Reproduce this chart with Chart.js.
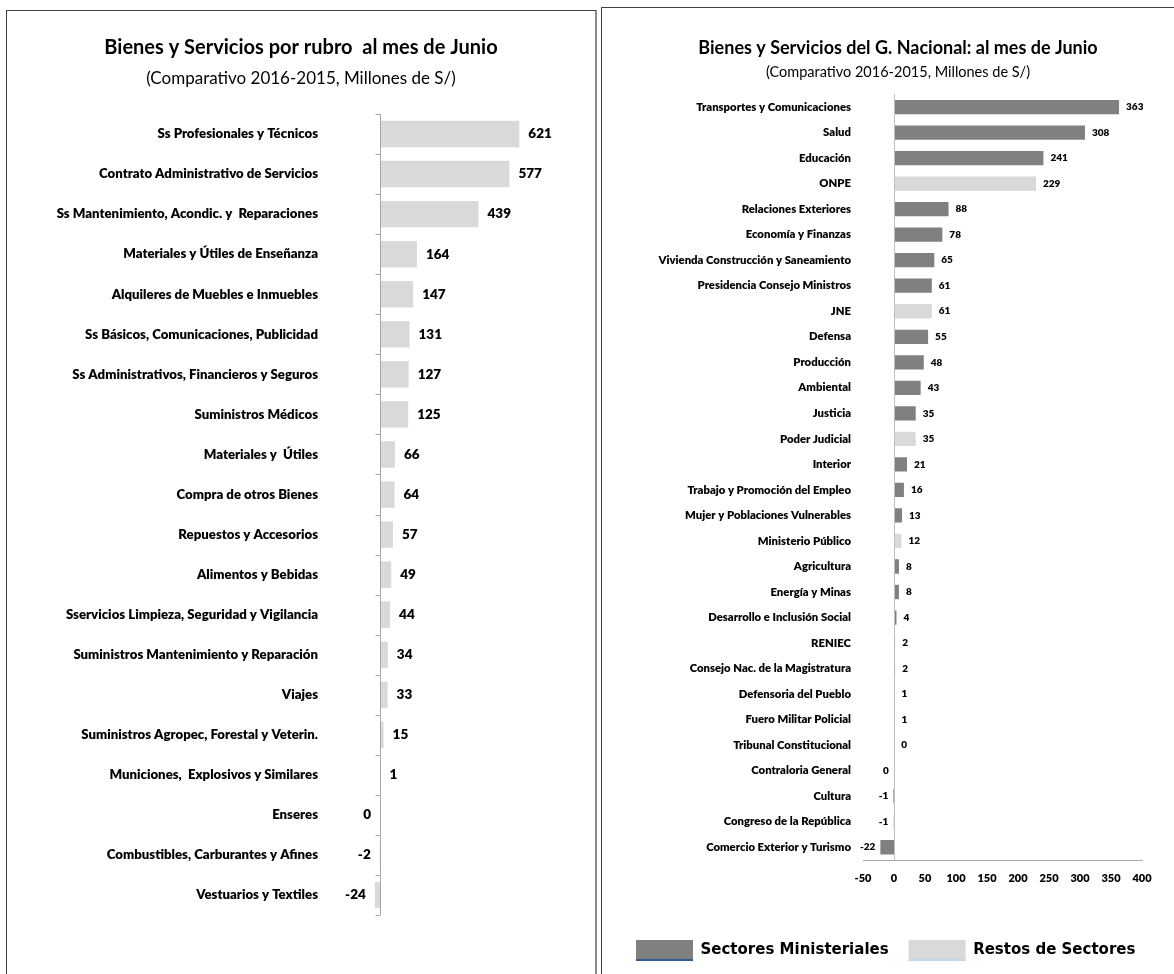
<!DOCTYPE html>
<html>
<head>
<meta charset="utf-8">
<script src="https://cdn.jsdelivr.net/npm/chart.js@4.4.1/dist/chart.umd.min.js"></script>
<style>
html, body { margin: 0; padding: 0; background: #fff; width: 1174px; height: 974px; overflow: hidden; }
.panel { position: absolute; box-sizing: border-box; }
#p1 { left: 6px; top: 10px; width: 591px; height: 1000px; border-left: 1px solid #404040; border-top: 1px solid #404040; border-right: 2px solid #8c8c8c; }
#p2 { left: 601px; top: 7px; width: 640px; height: 1000px; border-left: 1px solid #404040; border-top: 1px solid #404040; }
canvas { position: absolute; left: 0; top: 0; }
</style>
</head>
<body>
<div class="panel" id="p1"><canvas id="rubroChart" width="588" height="963"></canvas></div>
<div class="panel" id="p2"><canvas id="nacionalChart" width="620" height="966"></canvas></div>
<script>
// Bienes y Servicios por rubro (millones de S/)
const rubroLabels = [
    'Ss Profesionales y Técnicos',
    'Contrato Administrativo de Servicios',
    'Ss Mantenimiento, Acondic. y  Reparaciones',
    'Materiales y Útiles de Enseñanza',
    'Alquileres de Muebles e Inmuebles',
    'Ss Básicos, Comunicaciones, Publicidad',
    'Ss Administrativos, Financieros y Seguros',
    'Suministros Médicos',
    'Materiales y  Útiles',
    'Compra de otros Bienes',
    'Repuestos y Accesorios',
    'Alimentos y Bebidas',
    'Sservicios Limpieza, Seguridad y Vigilancia',
    'Suministros Mantenimiento y Reparación',
    'Viajes',
    'Suministros Agropec, Forestal y Veterin.',
    'Municiones,  Explosivos y Similares',
    'Enseres',
    'Combustibles, Carburantes y Afines',
    'Vestuarios y Textiles',
];
const rubroValues = [621, 577, 439, 164, 147, 131, 127, 125, 66, 64, 57, 49, 44, 34, 33, 15, 1, -0.2, -2, -24];

// Bienes y Servicios del G. Nacional por sector
const sectorLabels = [
    'Transportes y Comunicaciones', 'Salud', 'Educación', 'ONPE', 'Relaciones Exteriores',
    'Economía y Finanzas', 'Vivienda Construcción y Saneamiento', 'Presidencia Consejo Ministros', 'JNE', 'Defensa',
    'Producción', 'Ambiental', 'Justicia', 'Poder Judicial', 'Interior',
    'Trabajo y Promoción del Empleo', 'Mujer y Poblaciones Vulnerables', 'Ministerio Público', 'Agricultura', 'Energía y Minas',
    'Desarrollo e Inclusión Social', 'RENIEC', 'Consejo Nac. de la Magistratura', 'Defensoria del Pueblo', 'Fuero Militar Policial',
    'Tribunal Constitucional', 'Contraloria General', 'Cultura', 'Congreso de la República', 'Comercio Exterior y Turismo',
];
const sectorValues = [363, 308, 241, 229, 88, 78, 65, 61, 61, 55, 48, 43, 35, 35, 21, 16, 13, 12, 8, 8, 4, 2, 2, 1, 1, 0.3, -0.3, -1, -1, -22];
// M = Sectores Ministeriales, R = Restos de Sectores
const sectorGroup = ['M', 'M', 'M', 'R', 'M', 'M', 'M', 'M', 'R', 'M', 'M', 'M', 'M', 'R', 'M',
    'M', 'M', 'R', 'M', 'M', 'M', 'R', 'R', 'R', 'R', 'R', 'R', 'M', 'R', 'M'];
const groupNames = { M: 'Sectores Ministeriales', R: 'Restos de Sectores' };
const xTicksNacional = [-50, 0, 50, 100, 150, 200, 250, 300, 350, 400];

const FONT = "Lato, 'DejaVu Sans Condensed', sans-serif";
const DARK = '#808080';
const LIGHT = '#d9d9d9';

Chart.defaults.font.family = FONT;
Chart.defaults.color = '#000';

// value labels at the end of every bar
const valueLabels = {
    id: 'valueLabels',
    afterDatasetsDraw(chart, args, opts) {
        const ctx = chart.ctx;
        ctx.save();
        ctx.font = opts.font;
        ctx.fillStyle = '#000';
        ctx.textBaseline = 'middle';
        chart.data.datasets.forEach((ds, di) => {
            chart.getDatasetMeta(di).data.forEach((bar, i) => {
                const v = ds.data[i];
                if (v === null || v === undefined) return;
                const txt = Math.round(v).toString();
                if (v > 0) {
                    ctx.textAlign = 'left';
                    ctx.fillText(txt, bar.x + opts.gap, bar.y);
                } else {
                    ctx.textAlign = 'right';
                    ctx.fillText(txt, bar.x - opts.gapNeg, bar.y);
                }
            });
        });
        ctx.restore();
    }
};

// vertical axis line drawn at x = 0, optional tick marks between categories
const zeroAxis = {
    id: 'zeroAxis',
    afterDatasetsDraw(chart, args, opts) {
        const { ctx, chartArea } = chart;
        const x = Math.round(chart.scales.x.getPixelForValue(0)) + 0.5;
        ctx.save();
        ctx.strokeStyle = opts.color;
        ctx.lineWidth = 1;
        ctx.beginPath();
        ctx.moveTo(x, chartArea.top);
        ctx.lineTo(x, chartArea.bottom);
        if (opts.tick) {
            const n = chart.data.labels.length;
            const step = (chartArea.bottom - chartArea.top) / n;
            for (let i = 0; i <= n; i++) {
                const y = Math.round(chartArea.top + i * step) + 0.5;
                ctx.moveTo(x - opts.tick, y);
                ctx.lineTo(x, y);
            }
        }
        ctx.stroke();
        ctx.restore();
    }
};

// coloured line under each legend box
const legendUnderline = {
    id: 'legendUnderline',
    afterDraw(chart, args, opts) {
        const legend = chart.legend;
        if (!legend || !legend.legendHitBoxes) return;
        const { boxWidth, boxHeight } = legend.options.labels;
        const ctx = chart.ctx;
        ctx.save();
        legend.legendHitBoxes.forEach((hb, i) => {
            const y = hb.top + (hb.height + boxHeight) / 2;
            ctx.fillStyle = opts.colors[i];
            ctx.fillRect(hb.left, y - 2, boxWidth, 2);
        });
        ctx.restore();
    }
};

// invisible axis on the right, only keeps space for the value labels
const spacerAxis = width => ({
    type: 'linear',
    position: 'right',
    grid: { display: false, drawTicks: false },
    border: { display: false },
    ticks: { display: false },
    afterFit: s => { s.width = width; }
});

new Chart(document.getElementById('rubroChart'), {
    type: 'bar',
    data: {
        labels: rubroLabels,
        datasets: [{
            data: rubroValues,
            backgroundColor: LIGHT,
            borderWidth: 0,
            barPercentage: 0.66,
            categoryPercentage: 1,
        }]
    },
    options: {
        indexAxis: 'y',
        responsive: false,
        animation: false,
        layout: { padding: { left: 0, right: 0, top: 0, bottom: 20 } },
        scales: {
            x: { display: false, min: -50, max: 700 },
            y: {
                grid: { display: false, drawTicks: false },
                border: { display: false },
                ticks: { font: { size: 13.2, weight: '800' }, padding: 51, autoSkip: false },
                afterFit: s => { s.width = 362; }
            },
            yRight: spacerAxis(58)
        },
        plugins: {
            legend: { display: false },
            tooltip: { enabled: false },
            title: {
                display: true,
                text: 'Bienes y Servicios por rubro  al mes de Junio',
                font: { size: 20, weight: 'bold' },
                color: '#000',
                padding: { top: 25, bottom: 3 }
            },
            subtitle: {
                display: true,
                text: '(Comparativo 2016-2015, Millones de S/)',
                font: { size: 17, weight: 'normal' },
                color: '#000',
                padding: { top: 5, bottom: 25.6 }
            },
            valueLabels: { font: "800 13.5px " + FONT, gap: 9, gapNeg: 9 },
            zeroAxis: { color: '#a6a6a6', tick: 5 }
        }
    },
    plugins: [valueLabels, zeroAxis]
});

const groupData = g => sectorValues.map((v, i) => sectorGroup[i] === g ? v : null);

new Chart(document.getElementById('nacionalChart'), {
    type: 'bar',
    data: {
        labels: sectorLabels,
        datasets: [
            { label: groupNames.M, data: groupData('M'), backgroundColor: DARK, borderWidth: 0 },
            { label: groupNames.R, data: groupData('R'), backgroundColor: LIGHT, borderWidth: 0 },
        ]
    },
    options: {
        indexAxis: 'y',
        responsive: false,
        animation: false,
        grouped: false,
        barPercentage: 0.56,
        categoryPercentage: 1,
        layout: { padding: { left: 14, right: 42, top: 0, bottom: 3 } },
        scales: {
            x: {
                min: -50,
                max: 400,
                afterBuildTicks: s => { s.ticks = xTicksNacional.map(v => ({ value: v })); },
                grid: { display: false, drawTicks: false },
                border: { color: '#a6a6a6' },
                ticks: { font: { size: 11, weight: '800' }, padding: 12, maxRotation: 0 },
                afterFit: s => { s.height = 60; }
            },
            y: {
                grid: { display: false, drawTicks: false },
                border: { display: false },
                ticks: { font: { size: 11.3, weight: '800' }, padding: 12, autoSkip: false },
                afterFit: s => { s.width = 247; }
            },
            yRight: spacerAxis(38)
        },
        plugins: {
            legend: {
                position: 'bottom',
                align: 'start',
                labels: {
                    boxWidth: 57,
                    boxHeight: 21,
                    padding: 20,
                    color: '#000',
                    font: { family: "'DejaVu Sans', sans-serif", size: 15, weight: 'bold' }
                }
            },
            tooltip: { enabled: false },
            title: {
                display: true,
                text: 'Bienes y Servicios del G. Nacional: al mes de Junio',
                font: { size: 18, weight: 'bold' },
                color: '#000',
                padding: { top: 29.2, bottom: 2 }
            },
            subtitle: {
                display: true,
                text: '(Comparativo 2016-2015, Millones de S/)',
                font: { size: 14.5, weight: 'normal' },
                color: '#000',
                padding: { top: 3.3, bottom: 12.8 }
            },
            valueLabels: { font: "800 10px " + FONT, gap: 7, gapNeg: 5 },
            zeroAxis: { color: '#bfbfbf', tick: 0 },
            legendUnderline: { colors: ['#2e5f8f', '#bdd7ee'] }
        }
    },
    plugins: [valueLabels, zeroAxis, legendUnderline]
});
</script>
</body>
</html>
